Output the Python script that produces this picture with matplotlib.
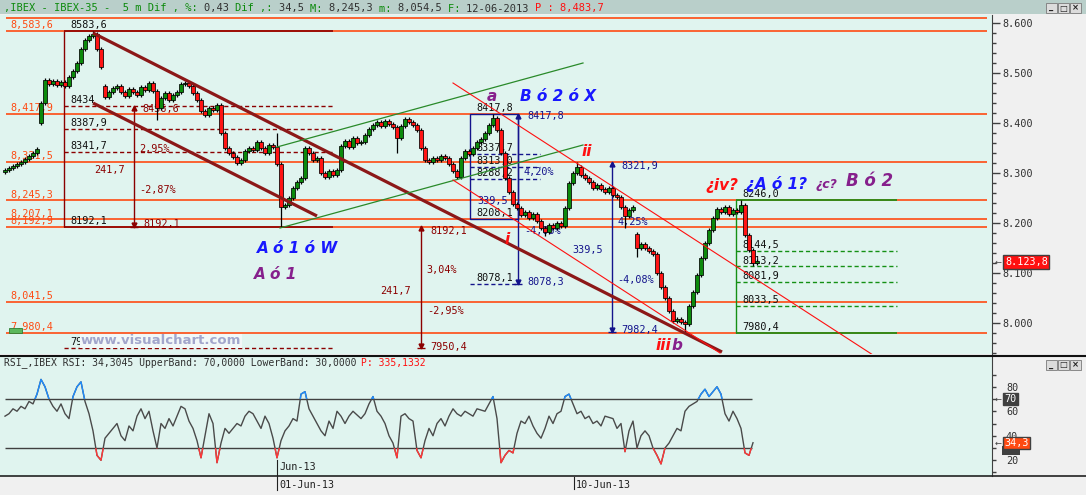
import numpy as np
import matplotlib
matplotlib.use("Agg")
import matplotlib.pyplot as plt
from matplotlib.patches import Rectangle
from matplotlib.lines import Line2D

# ---------------- data ----------------
close = [
    8306, 8310, 8314, 8318, 8322, 8328, 8334, 8340, 8348,
    8440, 8486, 8478, 8484, 8476, 8482, 8474, 8492, 8504, 8520, 8548,
    8566, 8574, 8578, 8548, 8512,
    8452, 8462, 8470, 8474, 8462, 8454, 8468, 8462, 8456, 8472, 8466, 8480, 8464, 8430, 8450,
    8460, 8446, 8456, 8462, 8478, 8480, 8474, 8460, 8446, 8424, 8416, 8430, 8426, 8436, 8380,
    8350, 8340, 8332, 8320, 8326, 8344, 8350, 8346, 8362, 8350, 8340, 8356, 8352, 8318, 8232,
    8236, 8250, 8270, 8282, 8290, 8350, 8340, 8326, 8330, 8300, 8292, 8304, 8296, 8306, 8354,
    8364, 8352, 8370, 8360, 8362, 8376, 8388, 8396, 8402, 8394, 8404, 8398, 8392, 8370, 8394,
    8408, 8402, 8396, 8386, 8350, 8326, 8322, 8330, 8326, 8334, 8330, 8318, 8304, 8292, 8330,
    8344, 8338, 8350, 8362, 8368, 8380, 8396, 8410, 8386, 8340, 8290, 8262, 8238, 8230, 8216,
    8222, 8210, 8218, 8204, 8190, 8182, 8196, 8190, 8200, 8194, 8230, 8280, 8300, 8312, 8296,
    8290, 8282, 8270, 8276, 8268, 8262, 8270, 8256, 8252, 8232, 8214, 8226, 8232, 8150, 8158,
    8150, 8144, 8138, 8100, 8072, 8050, 8024, 8004, 8008, 8002, 7998, 8034, 8062, 8096, 8130,
    8160, 8186, 8210, 8228, 8222, 8232, 8218, 8226, 8222, 8236, 8176, 8146, 8120, 8123.8,
]
gap_open = {0: 8302, 9: 8400, 25: 8474, 158: 8178}
high_override = {22: 8583.6, 68: 8380, 122: 8417.8, 143: 8321.9, 184: 8246.0}
low_override = {38: 8406, 69: 8192.1, 98: 8340, 113: 8288.2, 135: 8175,
                155: 8190, 158: 8132, 170: 7982.4, 187: 8115}

rsi = [
    56, 58, 62, 60, 64, 62, 68, 66, 74, 86, 80, 70, 64, 60, 66, 58, 54, 72, 80, 84, 68, 58, 44, 24, 20, 38,
    42,
    46, 50, 40, 36, 48, 44, 56, 62, 54, 60, 44, 30, 50, 46, 54, 48, 56, 64, 62, 52, 46, 36, 22, 40, 58, 50, 18, 34, 46, 42,
    46,
    50, 48, 56, 60, 58, 52, 46, 56, 50, 38, 22, 36, 44, 48, 54, 52, 74, 76, 62, 56, 50, 44, 40, 52, 46, 60, 56, 50, 56, 60,
    57,
    54, 58, 66, 72, 60, 56, 50, 40, 34, 22, 56, 58, 54, 52, 28, 22, 36, 46, 40, 50, 54, 48, 56, 62, 58, 56, 60, 58, 56, 62,
    61,
    60, 66, 72, 54, 18, 24, 28, 26, 42, 52, 50, 56, 48, 42,
    38, 46, 56, 50, 58, 60, 72, 74, 66, 58, 60, 54, 56, 50, 52, 48, 56,
    55,
    54, 46, 50, 27, 44, 52, 30, 40, 44, 40, 30, 24, 17, 30, 34, 40, 46, 44, 60, 64,
    66,
    68, 74, 78, 72, 76, 80, 74, 58, 52, 60, 54, 46, 26, 24, 34.3,
]

level_prices = [8610.0, 8583.6, 8417.9, 8321.5, 8245.3, 8207.1, 8192.9, 8041.5, 7980.4]
level_labels = ["", "8,583,6", "8,417,9", "8,321,5", "8,245,3", "8,207,1", "8,192,9", "8,041,5", "7,980,4"]

# measuring tool 1 (dark red)
t1_x = [14.75, 82.0]
t1_solid = [8583.6, 8192.1]
t1_dashed = [8434.0, 8387.9, 8341.7, 7950.4]
t1_labels = ["8583,6", "8434", "8387,9", "8341,7", "8192,1", "7950,4"]
t1_label_levels = [8583.6, 8434.0, 8387.9, 8341.7, 8192.1, 7950.4]
t1_arrow_x = 32.25
t1_arrow = [8434.0, 8192.1]
t1_notes = [("8436,6", 34.25, 8428), ("2,95%", 33.5, 8348), ("241,7", 22.25, 8306),
            ("-2,87%", 33.5, 8266), ("8192,1", 34.5, 8197)]
# measuring tool 2 (dark red)
t2_arrow_x = 104.0
t2_arrow = [8192.1, 7950.4]
t2_notes = [("8192,1", 106.25, 8184), ("3,04%", 105.25, 8106), ("241,7", 93.75, 8064),
            ("-2,95%", 105.5, 8024), ("7950,4", 106.25, 7952)]
# blue tool 1
b1_x = [116.25, 128.25]
b1_box = [8208.1, 8417.8]
b1_dashed = [8337.7, 8313.0, 8288.2]
b1_dash_end = 133.75
b1_low_dash = 8078.1
b1_labels = ["8417,8", "8337,7", "8313,0", "8288,2", "8208,1", "8078,1"]
b1_label_levels = [8417.8, 8337.7, 8313.0, 8288.2, 8208.1, 8078.1]
b1_arrow = [8417.8, 8078.3]
b1_notes = [("8417,8", 130.5, 8414), ("339,5", 118.0, 8244), ("4,20%", 129.5, 8302),
            ("-4,03%", 129.75, 8184), ("8078,3", 130.5, 8082)]
# blue tool 2
b2_arrow_x = 151.75
b2_arrow = [8321.9, 7982.4]
b2_notes = [("8321,9", 154.0, 8314), ("339,5", 141.75, 8146), ("4,25%", 153.25, 8202),
            ("-4,08%", 153.0, 8086), ("7982,4", 154.0, 7986)]
# green tool
g_x = [182.75, 223.0]
g_solid = [8246.0, 7980.4]
g_dashed = [8144.5, 8113.2, 8081.9, 8033.5]
g_labels = ["8246,0", "8144,5", "8113,2", "8081,9", "8033,5", "7980,4"]
g_label_levels = [8246.0, 8144.5, 8113.2, 8081.9, 8033.5, 7980.4]

# trend lines: (x0, x1), (p0, p1)
thick_upper = ([22.0, 179.25], [8580.0, 7942.0])
thick_lower = ([22.0, 78.0], [8440.0, 8214.0])
green_upper = ([68.0, 144.5], [8352.0, 8520.0])
green_lower = ([68.75, 144.5], [8190.0, 8356.0])
red_upper = ([112.0, 217.0], [8480.0, 7936.0])
red_lower = ([112.0, 178.75], [8286.0, 7940.0])

# wave labels: text, x, price, colour, size, ha
wave_labels = [
    ("a", 121.75, 8452, "#86208c", 11, "center"),
    ("B ó 2 ó X", 128.75, 8452, "#1818ff", 11, "left"),
    ("ii", 145.5, 8342, "#ff1010", 11, "center"),
    ("i", 125.5, 8166, "#ff1010", 11, "center"),
    ("iii", 164.5, 7954, "#ff1010", 11, "center"),
    ("b", 168.0, 7954, "#86208c", 11, "center"),
    ("¿iv?", 179.25, 8274, "#ff1010", 11, "center"),
    ("¿A ó 1?", 185.25, 8278, "#1818ff", 11, "left"),
    ("¿c?", 202.75, 8276, "#86208c", 9, "left"),
    ("B ó 2", 210.25, 8284, "#86208c", 12, "left"),
    ("A ó 1 ó W", 63.0, 8148, "#1818ff", 11, "left"),
    ("A ó 1", 62.25, 8096, "#86208c", 11, "left"),
]

price_ticks = [8000, 8100, 8200, 8300, 8400, 8500, 8600]
rsi_ticks = [20, 40, 60, 80]
date_labels = ["01-Jun-13", "10-Jun-13"]
date_bars = [68.0, 142.25]

# ---------------- style ----------------
W, H = 1086.0, 495.0
BG = "#e0f4ef"
ORANGE = "#ff4a12"
DARKRED = "#8b0000"
NAVY = "#14148c"
GTOOL = "#149014"
MONO = "DejaVu Sans Mono"

fig = plt.figure(figsize=(W / 100, H / 100), dpi=100)
fig.patch.set_facecolor("#f0f0f0")


def axes_px(l, t, r, b):
    return fig.add_axes([l / W, 1 - b / H, (r - l) / W, (b - t) / H])


def ftext(xp, yp, s, **kw):
    return fig.text(xp / W, 1 - yp / H, s, **kw)


# ---------------- main price panel ----------------
ax = axes_px(0, 15, 992, 354)
ax.set_facecolor(BG)
ax.set_xlim(-1.25, 246.75)
ax.set_ylim(7938, 8616)
for s in ["top", "left", "bottom"]:
    ax.spines[s].set_visible(False)
ax.spines["right"].set_color("#404040")
ax.set_xticks([])
ax.yaxis.tick_right()
ax.set_yticks(price_ticks)
ax.set_yticklabels([f"{v/1000:.3f}" for v in price_ticks])
ax.set_yticks(np.arange(7940, 8616, 20), minor=True)
ax.tick_params(axis="y", which="major", length=5.8, width=1, color="#404040",
               labelsize=7.3, labelcolor="#303030", pad=2)
ax.tick_params(axis="y", which="minor", length=3, width=1, color="#404040")
for lab in ax.get_yticklabels():
    lab.set_family(MONO)

# horizontal levels
ax.hlines(level_prices, 0.25, 245.5, color=ORANGE, lw=1.2, zorder=2)
for p, lab in zip(level_prices, level_labels):
    if lab:
        ax.text(1.25, p + 1.5, lab, color=ORANGE, family=MONO, fontsize=7.3,
                va="bottom", ha="left", zorder=3)
ax.add_patch(Rectangle((1.0, 7980.4), 3.25, 10, facecolor="#5cb85c",
                       edgecolor="#2e7d32", lw=0.6, zorder=3))

# candles
n = len(close)
opens = [gap_open[i] if i in gap_open else close[i - 1] for i in range(n)]
for i in range(n):
    o, c = opens[i], close[i]
    hi = high_override.get(i, max(o, c) + 4)
    lo = low_override.get(i, min(o, c) - 4)
    ax.vlines(i, lo, hi, color="black", lw=0.9, zorder=5)
    col = "#0c8a0c" if c >= o else "#ff1414"
    hgt = max(abs(c - o), 2.0)
    ax.add_patch(Rectangle((i - 0.4, min(o, c)), 0.8, hgt, facecolor=col,
                           edgecolor="black", lw=0.55, zorder=5))

# trend lines
ax.plot(*thick_upper, color="#8c1818", lw=2.3, zorder=6, solid_capstyle="butt")
ax.plot(*thick_lower, color="#8c1818", lw=2.3, zorder=6, solid_capstyle="butt")
ax.plot(*green_upper, color="#2a8a2a", lw=0.9, zorder=6)
ax.plot(*green_lower, color="#2a8a2a", lw=0.9, zorder=6)
ax.plot(*red_upper, color="#ff1010", lw=0.8, zorder=6)
ax.plot(*red_lower, color="#ff1010", lw=0.8, zorder=6)


def arrow_v(axx, xb, top, bottom, color):
    axx.vlines(xb, bottom, top, color=color, lw=1.0, zorder=3)
    axx.plot([xb], [top - 3], marker="^", ms=3.5, color=color, zorder=3)
    axx.plot([xb], [bottom + 3], marker="v", ms=3.5, color=color, zorder=3)
    axx.hlines(bottom, xb - 0.9, xb + 0.9, color=color, lw=1.0, zorder=3)


def note(txt, xb, p, color, **kw):
    ax.text(xb, p, txt, color=color, family=MONO, fontsize=7.3, va="center",
            ha="left", zorder=3, **kw)


# tool 1
ax.vlines(t1_x[0], t1_solid[1], t1_solid[0], color=DARKRED, lw=1.0, zorder=3)
ax.hlines(t1_solid, t1_x[0], t1_x[1], color=DARKRED, lw=1.2, zorder=3)
ax.hlines(t1_dashed, t1_x[0], t1_x[1], color=DARKRED, lw=1.0,
          linestyles=(0, (3, 2)), zorder=3)
for lab, p in zip(t1_labels, t1_label_levels):
    ax.text(t1_x[0] + 1.5, p + 1.5, lab, color="#101010", family=MONO,
            fontsize=7.3, va="bottom", ha="left", zorder=3)
arrow_v(ax, t1_arrow_x, t1_arrow[0], t1_arrow[1], DARKRED)
for t, xb, p in t1_notes:
    note(t, xb, p, DARKRED)

# tool 2
arrow_v(ax, t2_arrow_x, t2_arrow[0], t2_arrow[1], DARKRED)
for t, xb, p in t2_notes:
    note(t, xb, p, DARKRED)

# blue tool 1
ax.add_patch(Rectangle((b1_x[0], b1_box[0]), b1_x[1] - b1_x[0], b1_box[1] - b1_box[0],
                       fill=False, edgecolor=NAVY, lw=1.0, zorder=3))
ax.hlines(b1_dashed, b1_x[0], b1_dash_end, color=NAVY, lw=1.0,
          linestyles=(0, (3, 2)), zorder=3)
ax.hlines(b1_low_dash, b1_x[0], b1_x[1], color=NAVY, lw=1.0,
          linestyles=(0, (3, 2)), zorder=3)
arrow_v(ax, b1_x[1], b1_arrow[0], b1_arrow[1], NAVY)
for lab, p in zip(b1_labels, b1_label_levels):
    ax.text(b1_x[0] + 1.5, p + 1.5, lab, color="#101010", family=MONO,
            fontsize=7.3, va="bottom", ha="left", zorder=3)
for t, xb, p in b1_notes:
    note(t, xb, p, NAVY)

# blue tool 2
arrow_v(ax, b2_arrow_x, b2_arrow[0], b2_arrow[1], NAVY)
for t, xb, p in b2_notes:
    note(t, xb, p, NAVY)

# green tool
ax.vlines(g_x[0], g_solid[1], g_solid[0], color=GTOOL, lw=1.0, zorder=3)
ax.hlines(g_solid, g_x[0], g_x[1], color=GTOOL, lw=1.2, zorder=3)
ax.hlines(g_dashed, g_x[0], g_x[1], color=GTOOL, lw=1.0,
          linestyles=(0, (3, 2)), zorder=3)
for lab, p in zip(g_labels, g_label_levels):
    ax.text(g_x[0] + 1.5, p + 1.5, lab, color="#101010", family=MONO,
            fontsize=7.3, va="bottom", ha="left", zorder=3)

# wave labels
for t, xb, p, col, sz, ha in wave_labels:
    ax.text(xb, p, t, color=col, fontsize=sz, fontweight="bold", style="italic",
            family="DejaVu Sans", va="center", ha=ha, zorder=8)

# watermark
ax.text(39.0, 7964, "www.visualchart.com", color="#a2a6cc", fontsize=9.5,
        fontweight="bold", family="DejaVu Sans", ha="center", va="center", zorder=9,
        bbox=dict(facecolor="#f2f8f8", edgecolor="none", pad=0.6))

# ---------------- RSI panel ----------------
ax2 = axes_px(0, 357, 992, 476)
ax2.set_facecolor(BG)
ax2.set_xlim(-1.25, 246.75)
ax2.set_ylim(7.14, 104.3)
for s in ["top", "left", "bottom"]:
    ax2.spines[s].set_visible(False)
ax2.spines["right"].set_color("#404040")
ax2.set_xticks([])
ax2.yaxis.tick_right()
ax2.set_yticks(rsi_ticks)
ax2.set_yticklabels([str(v) for v in rsi_ticks])
ax2.set_yticks([10, 30, 50, 70, 90], minor=True)
ax2.tick_params(axis="y", which="both", length=3, width=1, color="#404040",
                labelsize=7.3, labelcolor="#303030", pad=7)
for lab in ax2.get_yticklabels():
    lab.set_family(MONO)

xr = np.arange(len(rsi))
ax2.hlines([70, 30], 0, len(rsi) - 1.25, color="#404040", lw=1.0, zorder=2)
l_gray, = ax2.plot(xr, rsi, color="#4a4a4a", lw=1.0, zorder=3)
l_blue, = ax2.plot(xr, rsi, color="#1e8cff", lw=1.0, zorder=4)
l_red, = ax2.plot(xr, rsi, color="#ff3838", lw=1.0, zorder=4)
clip_b = Rectangle((-10, 70), 300, 100, transform=ax2.transData)
clip_r = Rectangle((-10, -50), 300, 80, transform=ax2.transData)
l_blue.set_clip_path(clip_b)
l_red.set_clip_path(clip_r)

# ---------------- figure decorations ----------------
fig.add_artist(Rectangle((0, 1 - 14 / H), 1, 14 / H, transform=fig.transFigure,
                         facecolor="#b9cfca", edgecolor="none", zorder=0))
fig.add_artist(Line2D([0, 1], [1 - 355.5 / H] * 2, color="#111111", lw=1.5))
fig.add_artist(Line2D([0, 1], [1 - 476 / H] * 2, color="#222222", lw=1.2))

segs = [(",IBEX - IBEX-35 -  5 m Dif , %: ", "#0c8a0c"), ("0,43 ", "#303030"),
        ("Dif ,: ", "#0c8a0c"), ("34,5 ", "#303030"), ("M: ", "#0c8a0c"),
        ("8,245,3 ", "#303030"), ("m: ", "#0c8a0c"), ("8,054,5 ", "#303030"),
        ("F: ", "#0c8a0c"), ("12-06-2013 ", "#303030"), ("P : 8,483,7", "#ff1010")]
cw = 6.25
xp = 4
for s, col in segs:
    ftext(xp, 8.5, s, color=col, family=MONO, fontsize=7.45, va="center", ha="left")
    xp += len(s) * cw

rsi_segs = [("RSI_,IBEX RSI: 34,3045 UpperBand: 70,0000 LowerBand: 30,0000 ", "#303030"),
            ("P: 335,1332", "#ff1010")]
xp = 4
for s, col in rsi_segs:
    ftext(xp, 363, s, color=col, family=MONO, fontsize=7.0, va="center", ha="left")
    xp += len(s) * 5.85

# window buttons
for yb in (3, 360):
    for k, g in enumerate(["_", "□", "×"]):
        x0 = 1046 + k * 12
        fig.add_artist(Rectangle((x0 / W, 1 - (yb + 10) / H), 11 / W, 10 / H,
                                 transform=fig.transFigure, facecolor="#dcdcdc",
                                 edgecolor="#7a7a7a", lw=0.6))
        ftext(x0 + 5.5, yb + 5, g, color="#202020", fontsize=6, ha="center",
              va="center", fontweight="bold")

# price tag
ftext(995, 262, "←", color="#404040", fontsize=6, va="center", ha="left")
ftext(1005, 262, "8.123,8", color="white", family=MONO, fontsize=7.3, va="center",
      ha="left", bbox=dict(facecolor="#ff1010", edgecolor="#404040", pad=1.2, lw=1))
# RSI tags
fig.add_artist(Rectangle((1002 / W, 1 - 455 / H), 18 / W, 9 / H,
                         transform=fig.transFigure, facecolor="#404040", edgecolor="none"))
ftext(995, 399, "←", color="#404040", fontsize=6, va="center", ha="left")
ftext(1004, 399, "70", color="white", family=MONO, fontsize=7.3, va="center",
      ha="left", bbox=dict(facecolor="#404040", edgecolor="#404040", pad=1.0))
ftext(995, 443, "←", color="#404040", fontsize=6, va="center", ha="left")
ftext(1004, 443, "34,3", color="white", family=MONO, fontsize=7.3, va="center",
      ha="left", bbox=dict(facecolor="#ff4a12", edgecolor="#404040", pad=1.0, lw=1))

# date axis
for lab, xb in zip(date_labels, date_bars):
    xpix = 5 + 4 * xb
    ftext(xpix + 2, 485, lab, color="#202020", family=MONO, fontsize=7.3,
          va="center", ha="left")
ftext(5 + 4 * date_bars[0] + 2, 467, "Jun-13", color="#202020", family=MONO,
      fontsize=7.3, va="center", ha="left")
x0 = (5 + 4 * date_bars[0]) / W
fig.add_artist(Line2D([x0, x0], [1 - 460 / H, 1 - 490 / H], color="#202020", lw=0.8))
x1 = (5 + 4 * date_bars[1]) / W
fig.add_artist(Line2D([x1, x1], [1 - 477 / H, 1 - 489 / H], color="#202020", lw=0.8))

fig.savefig("out.png", dpi=100, facecolor=fig.get_facecolor())
